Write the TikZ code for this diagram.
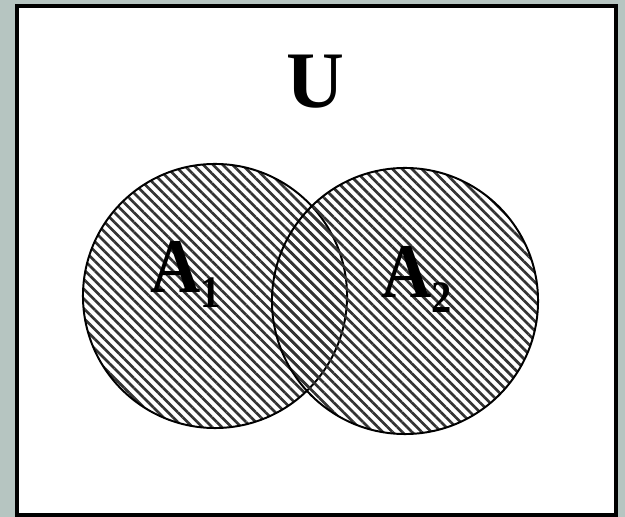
\documentclass[tikz,border=0pt]{standalone}
\usepackage{fontspec}
\setmainfont{Liberation Serif}
\usepackage{tikz}
\usetikzlibrary{patterns.meta}
\definecolor{slidebg}{HTML}{B6C5C1}
\tikzstyle{setcircle} = [circle, draw=black, line width=1.4pt, inner sep=0pt, pattern={Lines[angle=-45, distance=4.9pt, line width=1.9pt]}, pattern color=black!80]
\tikzstyle{setlabel} = [anchor=base west, inner sep=0pt, font=\fontsize{55}{60}\selectfont\bfseries]
\newcommand{\subnum}[1]{\raisebox{-10pt}{\fontsize{32}{32}\selectfont\bfseries #1}}

\begin{document}
\begin{tikzpicture}[x=0.025cm, y=-0.025cm]
    \fill[slidebg] (0,0) rectangle (625,517);
    \draw[line width=2.5pt, fill=white] (17,6) rectangle (616,515);
    \node (u)[anchor=base, inner sep=0pt, font=\fontsize{57}{60}\selectfont\bfseries] at (315,108) {U};
    \node (a1)[setcircle, minimum size=6.6cm] at (215,296) {};
    \node (a2)[setcircle, minimum size=6.65cm] at (405,301) {};
    \node (l1)[setlabel, xscale=0.9] at (150,293) {A\subnum{1}};
    \node (l2)[setlabel, xscale=0.9] at (381,298) {A\subnum{2}};
\end{tikzpicture}
\end{document}
